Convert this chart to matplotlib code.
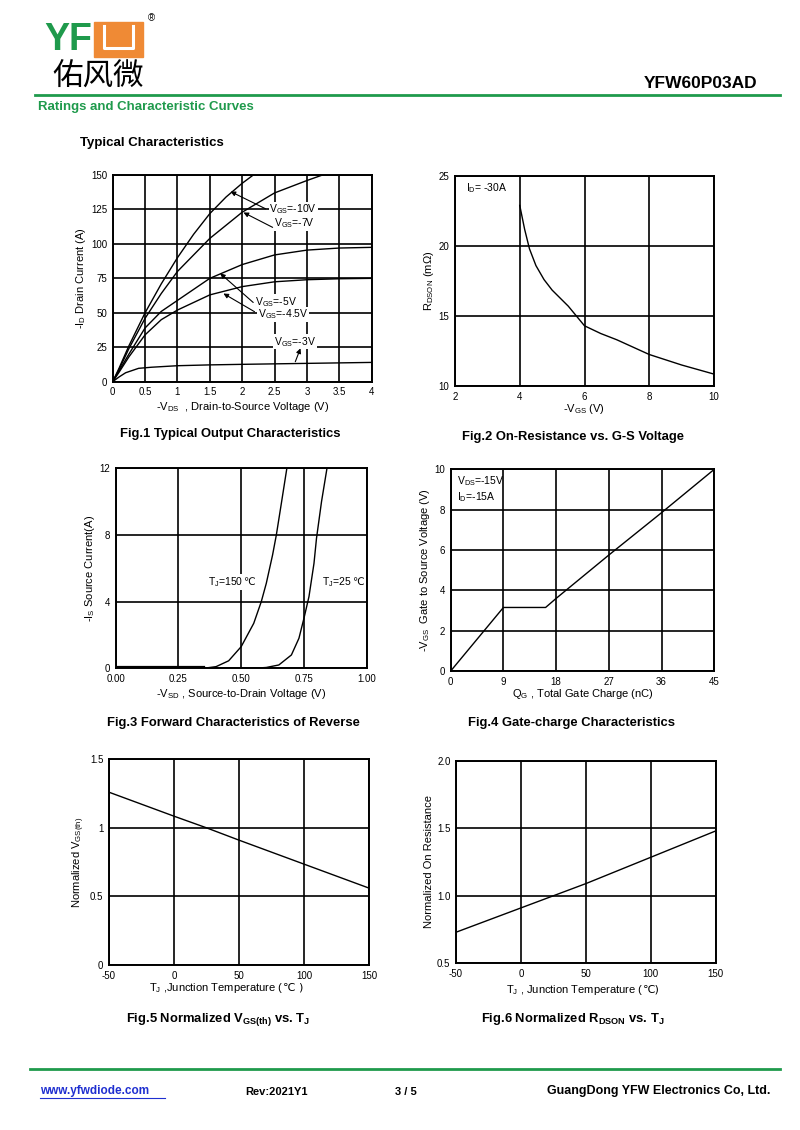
import numpy as np
import matplotlib
matplotlib.use('Agg')
import matplotlib.pyplot as plt
from matplotlib.patches import Rectangle
from matplotlib.offsetbox import TextArea, HPacker, AnnotationBbox

plt.rcParams['font.family'] = ['Liberation Sans', 'DejaVu Sans']
plt.rcParams['mathtext.fontset'] = 'custom'
plt.rcParams['mathtext.rm'] = 'Liberation Sans'
plt.rcParams['mathtext.it'] = 'Liberation Sans'
plt.rcParams['mathtext.bf'] = 'Liberation Sans:bold'
plt.rcParams['axes.unicode_minus'] = False

# =============================================================================
# Data
# =============================================================================
# Fig.1 output characteristics: -VDS (V) vs -ID (A)
vds_10 = [0, 0.1, 0.25, 0.5, 0.75, 1.0, 1.25, 1.5, 1.75, 2.0, 2.2]
id_10 = [0, 10, 26, 50, 71, 90, 107, 122, 134, 144, 151]
vds_7 = [0, 0.1, 0.25, 0.5, 0.75, 1.0, 1.5, 2.0, 2.5, 3.0, 3.3]
id_7 = [0, 9, 24, 46, 64, 80, 104, 123, 137, 146, 151]
vds_5 = [0, 0.1, 0.25, 0.5, 0.75, 1.0, 1.5, 2.0, 2.5, 3.0, 3.5, 4.0]
id_5 = [0, 8, 20, 39, 51, 59, 75, 85, 92, 95.5, 97, 97.5]
vds_45 = [0, 0.1, 0.25, 0.5, 0.75, 1.0, 1.5, 2.0, 2.5, 3.0, 3.5, 4.0]
id_45 = [0, 7, 18, 34, 45, 52, 63, 69, 72.5, 74, 74.7, 75]
vds_3 = [0, 0.1, 0.2, 0.4, 0.6, 1.0, 1.5, 2.0, 3.0, 4.0]
id_3 = [0, 3.5, 6.5, 9.7, 10.5, 11.6, 12.2, 12.6, 13.3, 14]

# Fig.2 RDSON (mOhm) vs -VGS (V), ID=-30A
vgs_r = [4, 4.15, 4.3, 4.5, 4.75, 5, 5.5, 6, 6.5, 7, 8, 9, 10]
rdson = [22.9, 21.2, 19.8, 18.6, 17.6, 16.85, 15.7, 14.3, 13.75, 13.3, 12.25, 11.5, 10.85]

# Fig.3 body diode: -VSD (V) vs -IS (A)
vsd_low = [0, 0.35]
is_low = [0.05, 0.05]
vsd_150 = [0.35, 0.4, 0.45, 0.5, 0.55, 0.58, 0.6, 0.625, 0.64, 0.66, 0.685]
is_150 = [0.0, 0.1, 0.45, 1.3, 2.7, 4.0, 5.1, 6.8, 8.0, 9.9, 12.3]
vsd_25 = [0.55, 0.6, 0.65, 0.7, 0.73, 0.75, 0.77, 0.79, 0.8, 0.82, 0.845]
is_25 = [0, 0.05, 0.2, 0.8, 1.8, 3.0, 4.3, 6.3, 7.8, 10.0, 12.3]

# Fig.4 gate charge: QG (nC) vs -VGS (V)
qg = [0, 9, 16.2, 18, 27, 36, 45]
vgs_q = [0, 3.15, 3.15, 3.6, 5.75, 7.85, 10]

# Fig.5 / Fig.6 normalized vs junction temperature
tj = [-50, 0, 25, 50, 100, 150]
vth_norm = [1.26, 1.085, 1.0, 0.91, 0.735, 0.56]
ron_norm = [0.73, 0.91, 1.0, 1.09, 1.285, 1.48]

# =============================================================================
# Page layout
# =============================================================================
W, H = 800, 1130
fig = plt.figure(figsize=(W / 100, H / 100), dpi=100)
green = '#1f9a4c'
orange = '#ef8a35'
deg_font = ['DejaVu Sans']


def add_ax(l, t, r, b):
    return fig.add_axes([l / W, 1 - b / H, (r - l) / W, (b - t) / H])


def style(ax, xlim, ylim, xt, yt, xtl=None, ytl=None):
    ax.set_xlim(*xlim)
    ax.set_ylim(*ylim)
    ax.set_xticks(xt)
    ax.set_yticks(yt)
    if xtl is not None:
        ax.set_xticklabels(xtl)
    if ytl is not None:
        ax.set_yticklabels(ytl)
    ax.grid(True, color='k', lw=1.2)
    ax.tick_params(length=0, labelsize=7, pad=4)
    for s in ax.spines.values():
        s.set_linewidth(1.4)


def ftext(x, y, s, **kw):
    fig.text(x / W, 1 - y / H, s, **kw)


def mixed(parts, x, y, size, align=(0.5, 0.5), white=False):
    # mathtext pieces and the degree-Celsius sign need different fonts
    areas = []
    for s, fam in parts:
        tp = dict(fontsize=size)
        if fam:
            tp['family'] = fam
        areas.append(TextArea(s, textprops=tp))
    pack = HPacker(children=areas, pad=0, sep=0, align='baseline')
    ab = AnnotationBbox(pack, (x, H - y), xycoords='figure pixels',
                        box_alignment=align, frameon=white, pad=0.1,
                        bboxprops=dict(facecolor='white', edgecolor='none'))
    fig.add_artist(ab)


# header
logo = fig.add_axes([0, 0, 1, 1])
logo.set_xlim(0, W)
logo.set_ylim(H, 0)
logo.axis('off')
logo.text(44, 40, 'YF', color=green, fontsize=27, fontweight='bold',
          va='center', ha='left')
logo.add_patch(Rectangle((94, 22), 49, 35, color=orange))
logo.plot([104, 104, 133, 133], [26, 48, 48, 26], color='white', lw=2.2)
logo.text(151, 18, '®', fontsize=7, ha='center', va='center')
logo.text(98, 77, '佑风微', family=['Noto Sans CJK SC'], fontsize=22,
          ha='center', va='center')
logo.plot([35, 780], [95, 95], color=green, lw=2)
logo.plot([30, 780], [1069, 1069], color=green, lw=2)
logo.plot([40, 165], [1098, 1098], color='#1f2fd0', lw=0.8)

ftext(757, 84, 'YFW60P03AD', fontsize=12.5, fontweight='bold', ha='right', va='center')
ftext(38, 107, 'Ratings and Characteristic Curves', fontsize=9.5, fontweight='bold',
      color=green, va='center')
ftext(80, 143, 'Typical Characteristics', fontsize=9.5, fontweight='bold', va='center')

# footer
ftext(40, 1091, 'www.yfwdiode.com', fontsize=8.5, fontweight='bold', color='#1f2fd0', va='center')
ftext(245, 1092, 'Rev:2021Y1', fontsize=8, fontweight='bold', va='center')
ftext(395, 1092, '3 / 5', fontsize=8, fontweight='bold', va='center')
ftext(770, 1091, 'GuangDong YFW Electronics Co, Ltd.', fontsize=9, fontweight='bold',
      ha='right', va='center')

cap = dict(fontsize=9.4, fontweight='bold', ha='center', va='center')
lab = dict(fontsize=8)

# =============================================================================
# Fig.1
# =============================================================================
ax1 = add_ax(112.7, 175, 371.7, 381.7)
style(ax1, (0, 4), (0, 150), np.arange(0, 4.01, 0.5), np.arange(0, 151, 25),
      xtl=['0', '0.5', '1', '1.5', '2', '2.5', '3', '3.5', '4'])
for x, y in [(vds_10, id_10), (vds_7, id_7), (vds_5, id_5), (vds_45, id_45), (vds_3, id_3)]:
    ax1.plot(x, y, color='k', lw=1)
ax1.set_xlabel(r'-V$_\mathregular{DS}$  , Drain-to-Source Voltage (V)', labelpad=2, **lab)
ax1.set_ylabel(r'-I$_\mathregular{D}$ Drain Current (A)', labelpad=2, **lab)
box = dict(facecolor='white', edgecolor='none', pad=0.5)
arw = dict(arrowstyle='-|>', lw=0.8, color='k', mutation_scale=7, shrinkA=0, shrinkB=0)
ax1.text(2.42, 125, r'V$_\mathregular{GS}$=-10V', fontsize=7.5, va='center', bbox=box)
ax1.text(2.49, 115, r'V$_\mathregular{GS}$=-7V', fontsize=7.5, va='center', bbox=box)
ax1.text(2.2, 58, r'V$_\mathregular{GS}$=-5V', fontsize=7.5, va='center', bbox=box)
ax1.text(2.24, 49, r'V$_\mathregular{GS}$=-4.5V', fontsize=7.5, va='center', bbox=box)
ax1.text(2.49, 29, r'V$_\mathregular{GS}$=-3V', fontsize=7.5, va='center', bbox=box)
ax1.annotate('', xy=(1.82, 138), xytext=(2.36, 125.5), arrowprops=arw)
ax1.annotate('', xy=(2.02, 122.8), xytext=(2.47, 112), arrowprops=arw)
ax1.annotate('', xy=(1.66, 78.6), xytext=(2.17, 57.5), arrowprops=arw)
ax1.annotate('', xy=(1.71, 64), xytext=(2.19, 50.8), arrowprops=arw)
ax1.annotate('', xy=(2.9, 24.2), xytext=(2.82, 14.5), arrowprops=arw)
ftext(230, 434, 'Fig.1 Typical Output Characteristics', **cap)

# =============================================================================
# Fig.2
# =============================================================================
ax2 = add_ax(455, 176, 714, 386)
style(ax2, (2, 10), (10, 25), [2, 4, 6, 8, 10], [10, 15, 20, 25])
ax2.plot(vgs_r, rdson, color='k', lw=1)
ax2.set_xlabel(r'-V$_\mathregular{GS}$ (V)', labelpad=0, **lab)
ax2.set_ylabel(r'R$_\mathregular{DSON}$ (m$\Omega$)', labelpad=2, **lab)
ax2.text(2.35, 24.1, r'I$_\mathregular{D}$= -30A', fontsize=7.5, va='center')
ftext(573, 437, 'Fig.2 On-Resistance vs. G-S Voltage', **cap)

# =============================================================================
# Fig.3
# =============================================================================
ax3 = add_ax(115.7, 468.3, 366.7, 668.3)
style(ax3, (0, 1), (0, 12), [0, 0.25, 0.5, 0.75, 1.0], [0, 4, 8, 12],
      xtl=['0.00', '0.25', '0.50', '0.75', '1.00'])
ax3.plot(vsd_low, is_low, color='k', lw=1.6)
ax3.plot(vsd_150, is_150, color='k', lw=1)
ax3.plot(vsd_25, is_25, color='k', lw=1)
ax3.set_xlabel(r'-V$_\mathregular{SD}$ , Source-to-Drain Voltage (V)', labelpad=2, **lab)
ax3.set_ylabel(r'-I$_\mathregular{S}$ Source Current(A)', labelpad=2, **lab)
mixed([(r'T$_\mathregular{J}$=150', None), ('℃', deg_font)], 208, 582, 7.5,
      align=(0, 0.5), white=True)
mixed([(r'T$_\mathregular{J}$=25', None), ('℃', deg_font)], 322, 582, 7.5,
      align=(0, 0.5), white=True)
ftext(233, 723, 'Fig.3 Forward Characteristics of Reverse', **cap)

# =============================================================================
# Fig.4
# =============================================================================
ax4 = add_ax(450.7, 469.3, 714.3, 671)
style(ax4, (0, 45), (0, 10), [0, 9, 18, 27, 36, 45], [0, 2, 4, 6, 8, 10])
ax4.plot(qg, vgs_q, color='k', lw=1)
ax4.set_xlabel(r'Q$_\mathregular{G}$ , Total Gate Charge (nC)', labelpad=0, **lab)
ax4.set_ylabel(r'-V$_\mathregular{GS}$  Gate to Source Voltage (V)', labelpad=2, **lab)
ax4.text(1, 9.4, r'V$_\mathregular{DS}$=-15V', fontsize=7.5, va='center')
ax4.text(1, 8.6, r'I$_\mathregular{D}$=-15A', fontsize=7.5, va='center')
ftext(572, 723, 'Fig.4 Gate-charge Characteristics', **cap)

# =============================================================================
# Fig.5
# =============================================================================
ax5 = add_ax(109, 759.3, 369.3, 965)
style(ax5, (-50, 150), (0, 1.5), [-50, 0, 50, 100, 150], [0, 0.5, 1, 1.5],
      ytl=['0', '0.5', '1', '1.5'])
ax5.plot(tj, vth_norm, color='k', lw=1)
mixed([(r'T$_\mathregular{J}$ ,Junction Temperature (', None), ('℃ )', deg_font)],
      226, 988, 8)
ax5.set_ylabel(r'Normalized V$_\mathregular{GS(th)}$', labelpad=2, **lab)
ftext(218, 1019, r'Fig.5 Normalized V$_\mathbf{GS(th)}$ vs. T$_\mathbf{J}$', **cap)

# =============================================================================
# Fig.6
# =============================================================================
ax6 = add_ax(456, 760.7, 715.7, 963.3)
style(ax6, (-50, 150), (0.5, 2.0), [-50, 0, 50, 100, 150], [0.5, 1.0, 1.5, 2.0],
      ytl=['0.5', '1.0', '1.5', '2.0'])
ax6.plot(tj, ron_norm, color='k', lw=1)
mixed([(r'T$_\mathregular{J}$ , Junction Temperature (', None), ('℃)', deg_font)],
      583, 990, 8)
ax6.set_ylabel('Normalized On Resistance', labelpad=2, **lab)
ftext(573, 1019, r'Fig.6 Normalized R$_\mathbf{DSON}$ vs. T$_\mathbf{J}$', **cap)

fig.savefig('out.png', dpi=100)
